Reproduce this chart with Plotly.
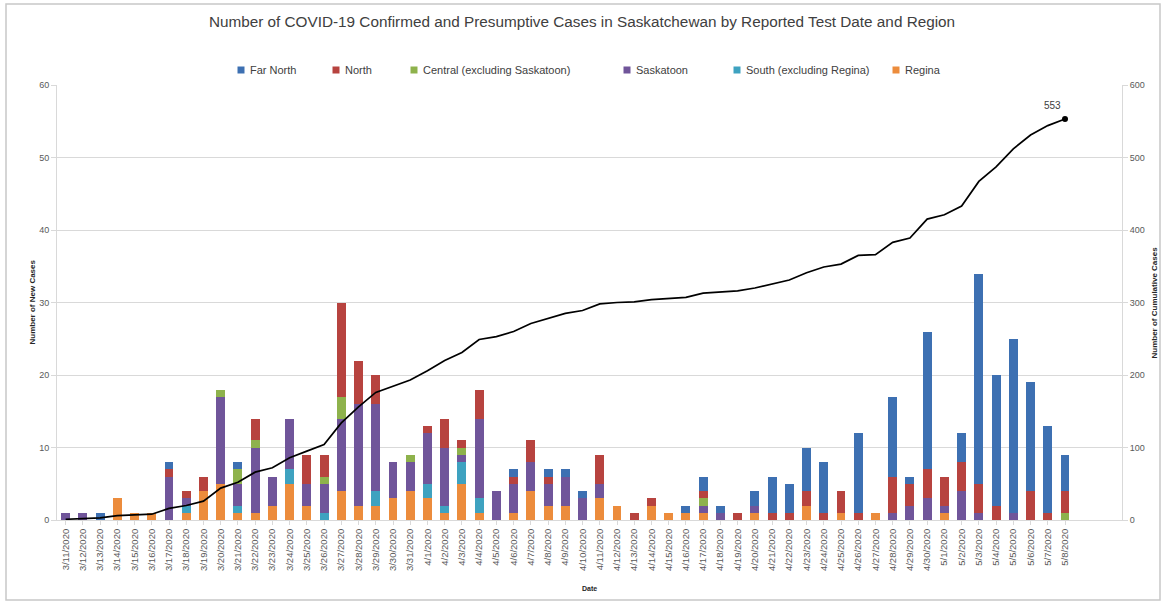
import plotly.graph_objects as go

dates = ([f"3/{d}/2020" for d in range(11, 32)] +
         [f"4/{d}/2020" for d in range(1, 31)] +
         [f"5/{d}/2020" for d in range(1, 9)])

regina = ([0,0,0,3,1,1,0,1,4,5,1,1,2,5,2,0,4,2,2,3,4] +
          [3,1,5,1,0,1,4,2,2,0, 3,2,0,2,1,1,1,0,0,1, 0,0,2,0,1,0,1,0,0,0] +
          [1,0,0,0,0,0,0,0])
south = ([0,0,0,0,0,0,0,1,0,0,1,0,0,2,0,1,0,0,2,0,0] +
         [2,1,3,2,0,0,0,0,0,0, 0,0,0,0,0,0,0,0,0,0, 0,0,0,0,0,0,0,0,0,0] +
         [0,0,0,0,0,0,0,0])
saskatoon = ([1,1,0,0,0,0,6,1,0,12,3,9,4,7,3,4,10,14,12,5,4] +
             [7,8,1,11,4,4,4,3,4,3, 2,0,0,0,0,0,1,1,0,1, 0,0,0,0,0,0,0,1,2,3] +
             [1,4,1,0,1,0,0,0])
central = ([0,0,0,0,0,0,0,0,0,1,2,1,0,0,0,1,3,0,0,0,1] +
           [0,0,1,0,0,0,0,0,0,0, 0,0,0,0,0,0,1,0,0,0, 0,0,0,0,0,0,0,0,0,0] +
           [0,0,0,0,0,0,0,1])
north = ([0,0,0,0,0,0,1,1,2,0,0,3,0,0,4,3,13,6,4,0,0] +
         [1,4,1,4,0,1,3,1,0,0, 4,0,1,1,0,0,1,0,1,0, 1,1,2,1,3,1,0,5,3,4] +
         [4,4,4,2,0,4,1,3])
far_north = ([0,0,1,0,0,0,1,0,0,0,1,0,0,0,0,0,0,0,0,0,0] +
             [0,0,0,0,0,1,0,1,1,1, 0,0,0,0,0,1,2,1,0,2, 5,4,6,7,0,11,0,11,1,19] +
             [0,4,29,18,24,15,12,5])
cumulative = ([1,2,3,6,7,8,16,20,26,44,52,66,72,86,95,104,134,156,176,184,193] +
              [206,220,231,249,253,260,271,278,285,289, 298,300,301,304,305,307,313,315,316,320,
               326,331,341,349,353,365,366,383,389,415] +
              [421,433,467,487,512,531,544,553])

series = [
    ("Regina", regina, "#EC8C3C"),
    ("South (excluding Regina)", south, "#3EA2C0"),
    ("Saskatoon", saskatoon, "#70559A"),
    ("Central (excluding Saskatoon)", central, "#8EB24C"),
    ("North", north, "#B7433F"),
    ("Far North", far_north, "#3D70B2"),
]
legend_px = {"Far North": 241, "North": 336, "Central (excluding Saskatoon)": 414,
             "Saskatoon": 627, "South (excluding Regina)": 737, "Regina": 896}

FONT = "Liberation Sans"
L, R, T, B = 57, 1122, 85, 520
W, H = R - L, B - T
def px(x): return (x - L) / W
def py(y): return (B - y) / H

fig = go.Figure()
for name, vals, col in series:
    fig.add_trace(go.Bar(x=dates, y=vals, name=name, marker_color=col,
                         marker_line_width=0, showlegend=False))

fig.add_trace(go.Scatter(x=dates, y=cumulative, yaxis="y2", mode="lines",
                         line=dict(color="black", width=1.7), showlegend=False,
                         hoverinfo="y"))
fig.add_trace(go.Scatter(x=[dates[-1]], y=[cumulative[-1]], yaxis="y2",
                         mode="markers", marker=dict(color="black", size=6),
                         showlegend=False))

shapes = [dict(type="rect", xref="paper", yref="paper",
               x0=px(6), x1=px(1160), y0=py(600), y1=py(4),
               line=dict(color="#C8C8C8", width=1.5), layer="below")]
annotations = []
for name, vals, col in series:
    sx = legend_px[name]
    shapes.append(dict(type="rect", xref="paper", yref="paper",
                       x0=px(sx - 3.5), x1=px(sx + 3.5), y0=py(73.5), y1=py(66.5),
                       fillcolor=col, line=dict(width=0)))
    annotations.append(dict(text=name, xref="paper", yref="paper", x=px(sx + 7), y=py(70),
                            xanchor="left", yanchor="middle", showarrow=False,
                            font=dict(size=11, color="#404040", family=FONT)))

annotations += [
    dict(text="<b>Number of New Cases</b>", xref="paper", yref="paper", x=px(32), y=0.5,
         textangle=-90, showarrow=False, xanchor="center", yanchor="middle",
         font=dict(size=8, color="#262626", family=FONT)),
    dict(text="<b>Number of Cumulative Cases</b>", xref="paper", yref="paper", x=px(1154), y=0.5,
         textangle=-90, showarrow=False, xanchor="center", yanchor="middle",
         font=dict(size=8, color="#262626", family=FONT)),
    dict(text="<b>Date</b>", xref="paper", yref="paper", x=0.5, y=py(588),
         showarrow=False, xanchor="center", yanchor="middle",
         font=dict(size=7, color="#262626", family=FONT)),
    dict(text=str(cumulative[-1]), x=dates[-1], y=cumulative[-1], yref="y2",
         showarrow=False, xanchor="right", yanchor="bottom", xshift=-2, yshift=6,
         font=dict(size=10, color="#404040", family=FONT)),
]

fig.update_layout(
    width=1164, height=602,
    paper_bgcolor="white", plot_bgcolor="white",
    margin=dict(l=L, r=1164 - R, t=T, b=602 - B),
    barmode="stack", bargap=0.48,
    font=dict(family=FONT, color="#595959"),
    showlegend=False,
    title=dict(text="Number of COVID-19 Confirmed and Presumptive Cases in Saskatchewan by Reported Test Date and Region",
               x=0.5, xanchor="center", y=1 - 22 / 602, yanchor="middle",
               font=dict(size=15.3, color="#404040", family=FONT)),
    xaxis=dict(type="category", tickangle=-90, tickfont=dict(size=9.5),
               showline=True, linecolor="#D9D9D9", ticks="outside", ticklen=4,
               tickcolor="#D9D9D9", showgrid=False, automargin=False),
    yaxis=dict(range=[0, 60], dtick=10, showgrid=True, gridcolor="#D9D9D9",
               showline=True, linecolor="#D9D9D9", ticks="outside", ticklen=5,
               tickcolor="#D9D9D9", tickfont=dict(size=9), zeroline=False, automargin=False),
    yaxis2=dict(range=[0, 600], dtick=100, overlaying="y", side="right",
                showgrid=False, showline=True, linecolor="#D9D9D9", ticks="outside",
                ticklen=5, tickcolor="#D9D9D9", tickfont=dict(size=9), zeroline=False,
                automargin=False),
    shapes=shapes,
    annotations=annotations,
)

fig.write_html("out.html", config={"displayModeBar": False},
               post_script="document.body.style.margin='0px';document.body.style.overflow='hidden';")
